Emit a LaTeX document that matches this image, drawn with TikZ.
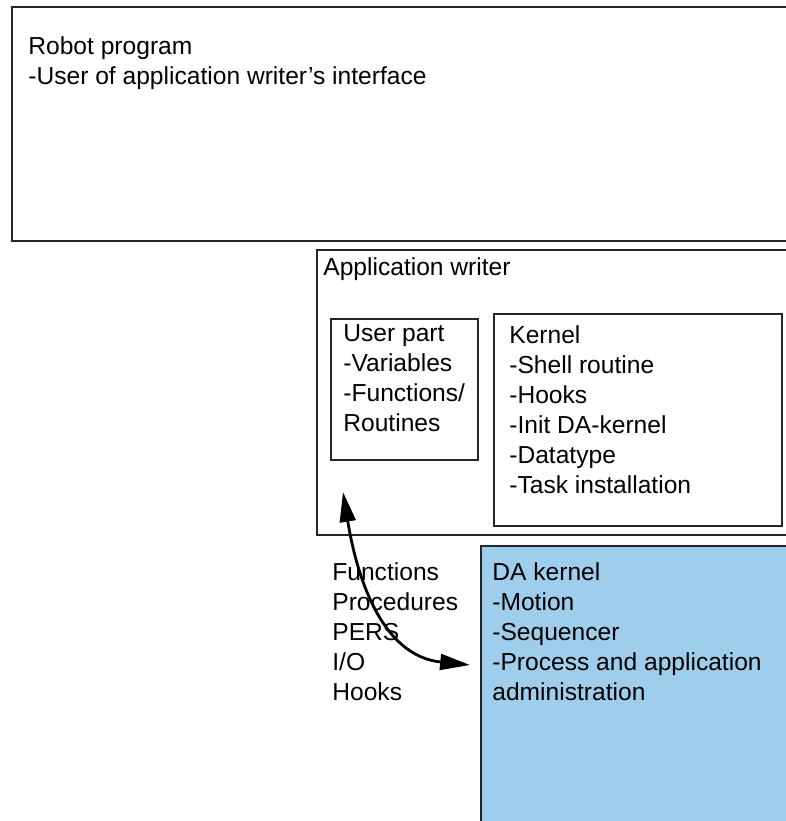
\documentclass[tikz,border=0pt]{standalone}
\usepackage{fontspec}
\setmainfont{Liberation Sans}
\usepackage{tikz}
\usetikzlibrary{arrows.meta,positioning,fit}
\definecolor{dablue}{RGB}{158,206,236}

\begin{document}
\begin{tikzpicture}[x=0.02cm,y=-0.02cm,
    box/.style={draw=black!85,line width=0.8pt,inner sep=0pt},
    txt/.style={font=\fontsize{14}{17.07}\selectfont,align=left,inner sep=0pt,anchor=north west},
    flow/.style={line width=1.6pt,{Triangle[length=17pt,width=9pt]}-{Triangle[length=17pt,width=9pt]}}]
  \useasboundingbox (0,0) rectangle (785,821);
  \node[box,fit={(12,7) (800,241)}] (robot) {};
  \node[box,fit={(317,250) (800,535)}] (writer) {};
  \node[box,fit={(331,319) (478,460)}] (user) {};
  \node[box,fit={(494,314) (782,526)}] (kernel) {};
  \node[box,fill=dablue,fit={(481,546) (800,830)}] (da) {};
  \node[txt] (robottxt) at (28,36) {Robot program\\-User of application writer's interface};
  \node[txt] (writertxt) at (323,257) {Application writer};
  \node[txt] (usertxt) at (343,324) {User part\\-Variables\\-Functions/\\Routines};
  \node[txt] (kerneltxt) at (509,325) {Kernel\\-Shell routine\\-Hooks\\-Init DA-kernel\\-Datatype\\-Task installation};
  \node[txt] (functxt) at (332,562) {Functions\\Procedures\\PERS\\I/O\\Hooks};
  \node[txt] (datxt) at (492,562) {DA kernel\\-Motion\\-Sequencer\\-Process and application\\administration};
  \coordinate (upend) at (343,492);
  \coordinate (daend) at (470,665);
  \draw[flow] (upend) .. controls (357,578) and (382,656) .. (daend);
\end{tikzpicture}
\end{document}
